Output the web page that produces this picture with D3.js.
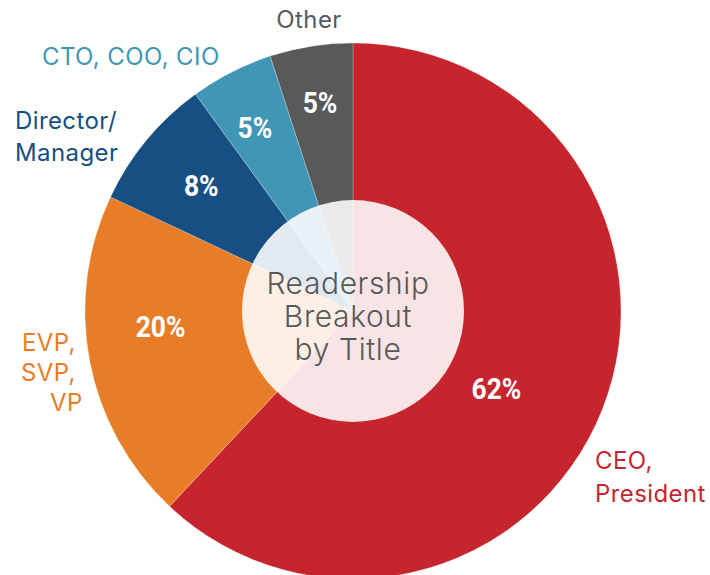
<!DOCTYPE html>
<html lang="en">

<head>
    <meta charset="UTF-8" />
    <title>Readership Breakout by Title</title>
    <script src="https://d3js.org/d3.v7.min.js"></script>
    <style>
        body {
            margin: 0;
            background: #fff;
        }

        .cat-label {
            font-family: Inter, "Open Sans", sans-serif;
            font-size: 24px;
            letter-spacing: 0.4px;
        }

        .pct-label {
            font-family: Roboto, "DejaVu Sans", sans-serif;
            font-weight: bold;
            font-size: 30px;
            fill: #fff;
        }

        .center-text {
            font-family: Inter, "Open Sans", sans-serif;
            font-weight: 300;
            font-size: 30px;
            letter-spacing: 0.6px;
            fill: #58595b;
        }
    </style>
</head>

<body>
    <script>
        // data, clockwise from 12 o'clock
        const categories = ['CEO, President', 'EVP, SVP, VP', 'Director/Manager', 'CTO, COO, CIO', 'Other'];
        const values = [62, 20, 8, 5, 5];
        const colors = ['#c7252e', '#e97d27', '#174f82', '#4195b5', '#58595b'];
        const labelLines = [
            ['CEO,', 'President'],
            ['EVP,', 'SVP,', 'VP'],
            ['Director/', 'Manager'],
            ['CTO, COO, CIO'],
            ['Other']
        ];
        const centerLines = ['Readership', 'Breakout', 'by Title'];

        const w = 710, h = 575;
        const cx = 353, cy = 311;
        const outerRadius = 268;
        const holeRadius = 111;

        // where the % figure sits in each slice: radius and angle nudge (radians)
        const pctRadius = [163, 193, 197, 208, 211];
        const pctShift = [0.118, 0.11, 0, -0.02, 0];

        // layout for outside category labels (x, first baseline, anchor, per-line x shifts)
        const labelLayout = [
            { x: 595, y: 469, anchor: 'start', dx: [0, 0] },
            { x: 22, y: 351, anchor: 'start', dx: [0, -1, 28] },
            { x: 15, y: 129, anchor: 'start', dx: [0, 0] },
            { x: 42, y: 65, anchor: 'start', dx: [0] },
            { x: 309, y: 28, anchor: 'middle', dx: [0] }
        ];
        const lineGap = [33, 30, 32, 0, 0];

        const dataset = categories.map((c, i) => ({ name: c, value: values[i], color: colors[i], lines: labelLines[i] }));

        const pie = d3.pie().value(d => d.value).sort(null);
        const arc = d3.arc().innerRadius(0).outerRadius(outerRadius);

        const svg = d3.select('body')
            .append('svg')
            .attr('width', w)
            .attr('height', h);

        const g = svg.append('g')
            .attr('transform', `translate(${cx},${cy})`);

        const arcs = g.selectAll('g.arc')
            .data(pie(dataset))
            .enter()
            .append('g')
            .attr('class', 'arc');

        arcs.append('path')
            .attr('fill', d => d.data.color)
            .attr('stroke', '#fff')
            .attr('stroke-opacity', 0.4)
            .attr('stroke-width', 0.6)
            .attr('d', arc);

        // translucent centre disc
        g.append('circle')
            .attr('r', holeRadius)
            .attr('fill', '#fff')
            .attr('fill-opacity', 0.88);

        // percentage labels
        arcs.append('text')
            .attr('class', 'pct-label')
            .attr('transform', (d, i) => {
                const a = (d.startAngle + d.endAngle) / 2 + pctShift[i];
                const r = pctRadius[i];
                return `translate(${Math.sin(a) * r},${-Math.cos(a) * r}) scale(0.88,1)`;
            })
            .attr('text-anchor', 'middle')
            .attr('dy', '0.36em')
            .text(d => d.data.value + '%');

        // category labels outside the pie
        dataset.forEach((d, i) => {
            const lay = labelLayout[i];
            const t = svg.append('text')
                .attr('class', 'cat-label')
                .attr('fill', d.color)
                .attr('text-anchor', lay.anchor);
            d.lines.forEach((line, j) => {
                t.append('tspan')
                    .attr('x', lay.x + lay.dx[j])
                    .attr('y', lay.y + j * lineGap[i])
                    .text(line);
            });
        });

        // centre title
        const ct = svg.append('text')
            .attr('class', 'center-text')
            .attr('text-anchor', 'middle');
        centerLines.forEach((line, j) => {
            ct.append('tspan')
                .attr('x', cx - 5)
                .attr('y', 294 + j * 33)
                .text(line);
        });
    </script>
</body>

</html>
